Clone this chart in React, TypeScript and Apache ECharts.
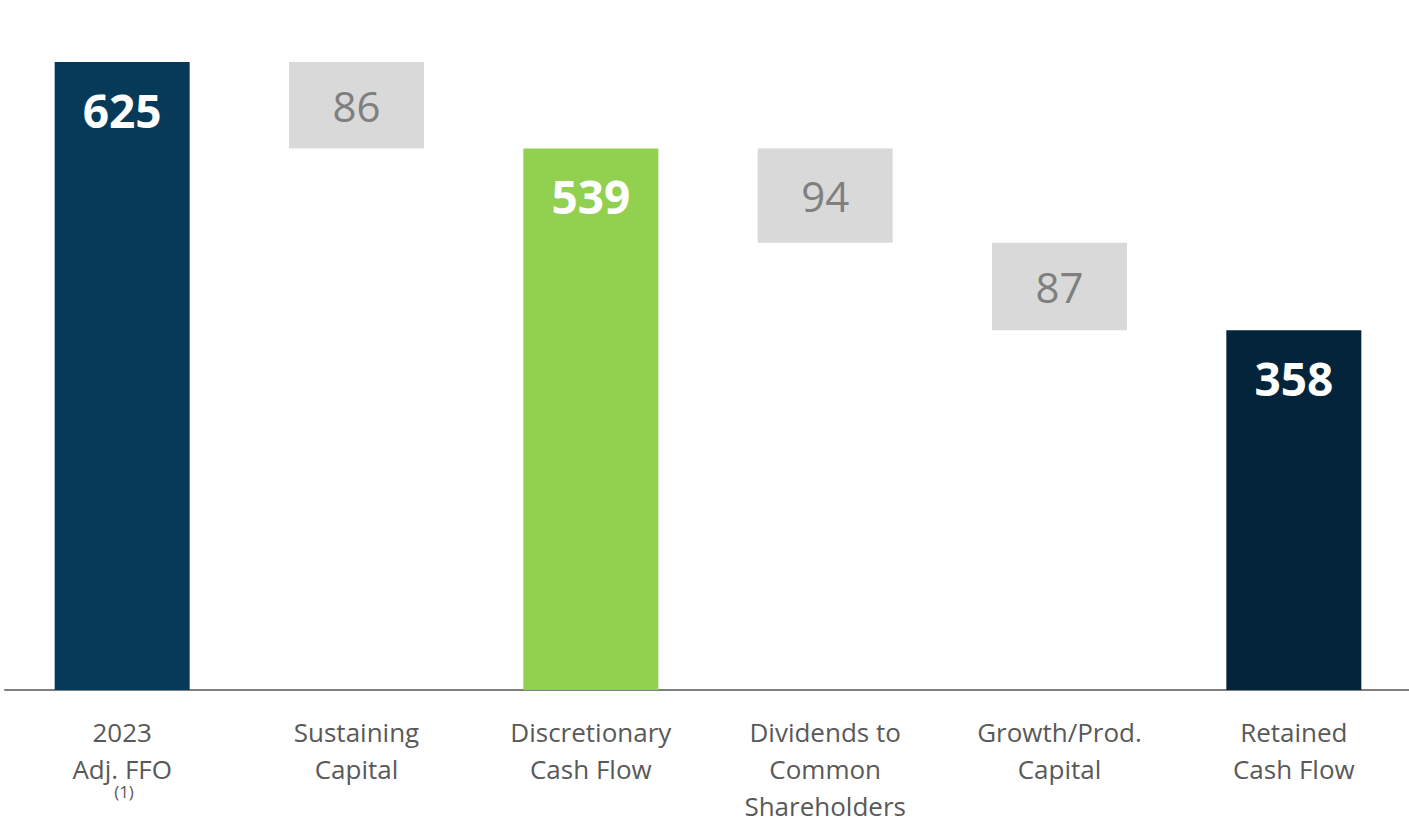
import React, { useEffect, useRef } from "react";
import * as echarts from "echarts";

const categories = [
  "2023\nAdj. FFO",
  "Sustaining\nCapital",
  "Discretionary\nCash Flow",
  "Dividends to\nCommon\nShareholders",
  "Growth/Prod.\nCapital",
  "Retained\nCash Flow",
];
const baseValues = [0, 539, 0, 445, 358, 0];
const barValues = [625, 86, 539, 94, 87, 358];
const barKinds = ["total", "step", "subtotal", "step", "step", "final"];
const footnote = "(1)";

const kindColors: Record<string, string> = {
  total: "#073A58",
  step: "#D9D9D9",
  subtotal: "#92D050",
  final: "#03243A",
};

export default function App() {
  const ref = useRef<HTMLDivElement>(null);
  useEffect(() => {
    if (!ref.current) return;
    const chart = echarts.init(ref.current, undefined, { renderer: "svg" });
    const font = "'Open Sans', 'Segoe UI', sans-serif";
    chart.setOption({
      animation: false,
      backgroundColor: "#ffffff",
      grid: {
        left: 5,
        width: 1406,
        top: 62,
        bottom: 132,
        containLabel: false,
        outerBoundsMode: "none",
      },
      xAxis: {
        type: "category",
        data: categories,
        axisLine: { lineStyle: { color: "#7F7F7F", width: 2 } },
        axisTick: { show: false },
        axisLabel: {
          color: "#595959",
          fontSize: 26,
          fontFamily: font,
          lineHeight: 37,
          margin: 23,
          interval: 0,
        },
      },
      yAxis: {
        type: "value",
        min: 0,
        max: 625,
        show: false,
        splitLine: { show: false },
      },
      series: [
        {
          type: "bar",
          stack: "wf",
          barWidth: 135,
          data: baseValues,
          itemStyle: { color: "transparent" },
          silent: true,
        },
        {
          type: "bar",
          stack: "wf",
          barWidth: 135,
          data: barValues.map((v, i) => {
            const kind = barKinds[i];
            const isStep = kind === "step";
            return {
              value: v,
              itemStyle: { color: kindColors[kind] },
              label: isStep
                ? {
                    show: true,
                    position: "inside",
                    color: "#7F7F7F",
                    fontSize: 42,
                    fontFamily: font,
                    fontWeight: "normal",
                  }
                : {
                    show: true,
                    position: "insideTop",
                    distance: 25,
                    lineHeight: 46,
                    color: "#ffffff",
                    fontSize: 46,
                    fontFamily: font,
                    fontWeight: "bold",
                  },
            };
          }),
        },
      ],
      graphic: [
        {
          type: "text",
          x: 124,
          y: 791,
          style: {
            text: footnote,
            fill: "#595959",
            fontSize: 17,
            fontFamily: font,
            align: "center",
            verticalAlign: "middle",
          },
        },
      ],
    });
    return () => chart.dispose();
  }, []);
  return (
    <div
      ref={ref}
      style={{ position: "fixed", left: 0, top: 0, width: 1409, height: 822 }}
    />
  );
}
